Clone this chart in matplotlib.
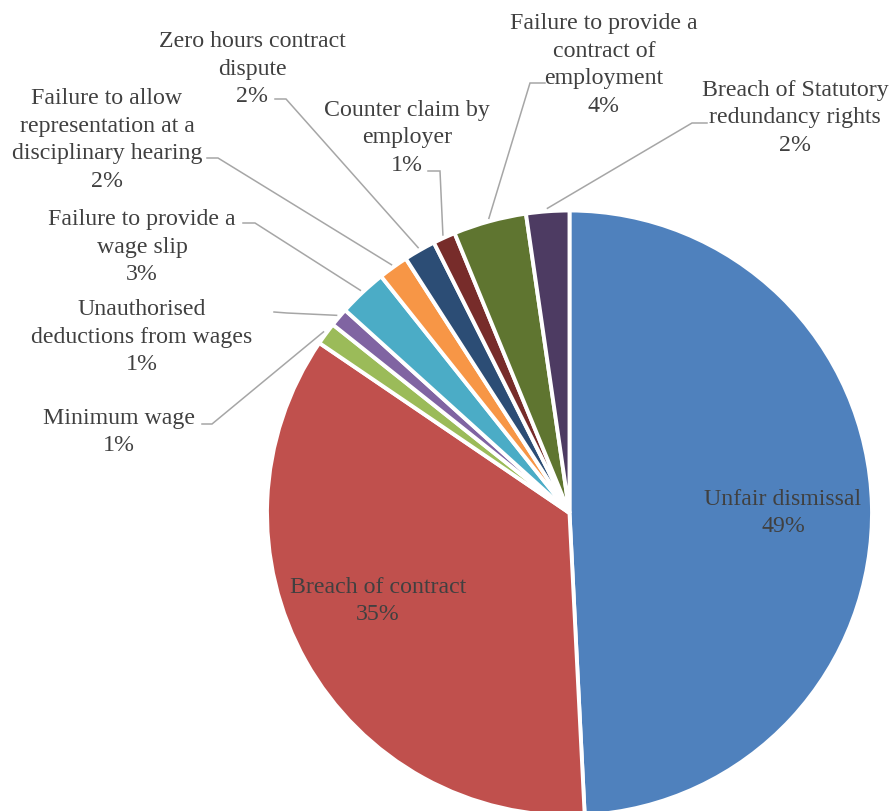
import numpy as np
import matplotlib.pyplot as plt

# ----------------------
# DATA (share of claims, %)
# ----------------------
categories = ["Unfair dismissal", "Breach of contract", "Minimum wage",
              "Unauthorised\ndeductions from wages", "Failure to provide a\nwage slip",
              "Failure to allow\nrepresentation at a\ndisciplinary hearing",
              "Zero hours contract\ndispute", "Counter claim by\nemployer",
              "Failure to provide a\ncontract of\nemployment",
              "Breach of Statutory\nredundancy rights"]
shares = [49.2, 35.3, 1.2, 1.0, 2.6, 1.6, 1.7, 1.2, 3.9, 2.3]
colors = ["#4F81BD", "#C0504D", "#9BBB59", "#8064A2", "#4BACC6",
          "#F79646", "#2C4D75", "#772C2A", "#5F7530", "#4D3B62"]

# ----------------------
# LAYOUT (pixel coords, y measured from top)
# ----------------------
W, H = 892, 811
center_px = (569.5, 513)
radius = 302.5
# label centre, leader start, leader elbow (None = label inside the pie)
label_pos = [(783, 513), (378, 601), (119, 432), (142, 337), (142, 247),
             (107, 140), (252, 69), (407, 138), (604, 65), (795, 118)]
leader_start = [None, None, (202, 424), (274, 312), (243, 223), (207, 158),
                (275, 99), (428, 171), (545, 83), (707, 123)]
leader_elbow = [None, None, (212, 424), (287, 313), (255, 223), (218, 158),
                (286, 99), (440, 171), (530, 83), (692, 123)]

def fy(y):
    return H - y

fig = plt.figure(figsize=(W / 100, H / 100), dpi=100)
ax = fig.add_axes([0, 0, 1, 1])

wedges, _ = ax.pie(shares, colors=colors, startangle=90, counterclock=False,
                   center=(center_px[0], fy(center_px[1])), radius=radius,
                   wedgeprops=dict(edgecolor="white", linewidth=2.8),
                   frame=True)
ax.set_xlim(0, W)
ax.set_ylim(0, H)
ax.axis("off")

total = sum(shares)
text_color = "#404040"
line_color = "#A6A6A6"
for i, w in enumerate(wedges):
    pct = shares[i] / total * 100
    lx, ly = label_pos[i]
    ax.text(lx, fy(ly), f"{categories[i]}\n{pct:.0f}%", ha="center", va="center",
            fontsize=17.2, family="Liberation Serif", color=text_color,
            linespacing=1.42, multialignment="center")
    if leader_start[i] is None:
        continue
    mid = np.deg2rad((w.theta1 + w.theta2) / 2)
    ex = w.center[0] + (radius + 3) * np.cos(mid)
    ey = w.center[1] + (radius + 3) * np.sin(mid)
    sx, sy = leader_start[i]
    bx, by = leader_elbow[i]
    ax.plot([sx, bx, ex], [fy(sy), fy(by), ey], color=line_color, lw=1.1,
            solid_joinstyle="miter")

fig.savefig("out.png", dpi=100)
